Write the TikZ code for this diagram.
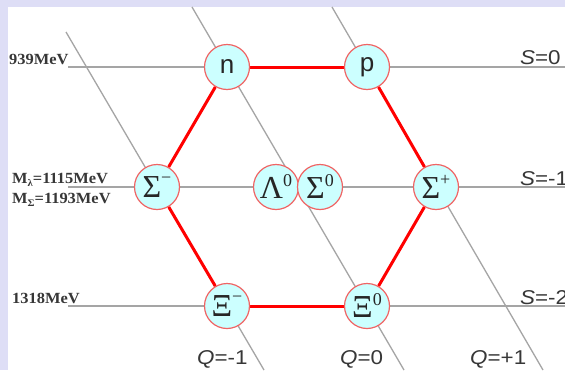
\documentclass[tikz,border=0pt]{standalone}
\usepackage{fontspec}
\setmainfont{Liberation Serif}
\newfontfamily\arialf{Liberation Sans}
\usetikzlibrary{backgrounds}
\definecolor{lav}{RGB}{222,222,246}
\definecolor{pfill}{RGB}{204,255,255}
\definecolor{pedge}{RGB}{240,100,100}
\definecolor{gline}{RGB}{165,165,165}
\definecolor{labc}{RGB}{55,55,55}
\newcommand\hsp[1]{\raisebox{12pt}{\fontsize{18}{18}\selectfont #1}}
\newcommand\hsm[1]{\raisebox{13.5pt}{\fontsize{18}{18}\selectfont #1}}
\newcommand\msub[1]{\raisebox{-3pt}{\fontsize{10}{10}\selectfont #1}}
\newcommand\widetxt[1]{\scalebox{1.12}[1]{#1}}
\newcommand\masstxt[1]{\scalebox{1.06}[1]{#1}}
\begin{document}
\begin{tikzpicture}[x=1pt,y=-1pt,
  particle/.style={circle, draw=pedge, line width=1.2pt, fill=pfill, minimum size=45pt, inner sep=0pt, text=black!85},
  greek/.style={font=\fontsize{32}{32}\selectfont},
  latin/.style={font=\arialf\fontsize{26}{26}\selectfont},
  gridline/.style={draw=gline, line width=1.3pt},
  hexedge/.style={draw=red, line width=3pt},
  mass/.style={font=\bfseries\fontsize{15.5}{16}\selectfont, text=labc, anchor=base west, inner sep=0pt},
  qnum/.style={font=\arialf\fontsize{20}{20}\selectfont, text=labc, anchor=base west, inner sep=0pt}]
\useasboundingbox (0,0) rectangle (565,370);

% particles
\node[particle,latin] (n) at (227,67) {n};
\node[particle,latin] (p) at (367,67) {p};
\node[particle,greek] (sm) at (157,187) {Σ\hsm{−}};
\node[particle,greek] (l0) at (276,187) {Λ\hsp{0}};
\node[particle,greek] (s0) at (320,187) {Σ\hsp{0}};
\node[particle,greek] (sp) at (436,187) {Σ\hsm{+}};
\node[particle,greek] (xm) at (227,306) {Ξ\hsm{−}};
\node[particle,greek] (x0) at (367,306) {Ξ\hsp{0}};

% line end points
\coordinate (h0L) at (68,67);   \coordinate (h0R) at (565,67);
\coordinate (h1L) at (68,187);  \coordinate (h1R) at (565,187);
\coordinate (h2L) at (68,306);  \coordinate (h2R) at (565,306);
\coordinate (qmT) at (66,32);   \coordinate (qmB) at (264,370);
\coordinate (q0T) at (192,7);   \coordinate (q0B) at (404,370);
\coordinate (qpT) at (332,7);   \coordinate (qpB) at (543,370);

\begin{scope}[on background layer]
  \fill[lav] (0,0) rectangle (565,370);
  \fill[white] (8,7) rectangle (565,370);
  \draw[gridline] (h0L) -- (h0R);
  \draw[gridline] (h1L) -- (h1R);
  \draw[gridline] (h2L) -- (h2R);
  \draw[gridline] (qmT) -- (qmB);
  \draw[gridline] (q0T) -- (q0B);
  \draw[gridline] (qpT) -- (qpB);
  \draw[hexedge] (n) -- (p);
  \draw[hexedge] (p) -- (sp);
  \draw[hexedge] (sp) -- (x0);
  \draw[hexedge] (x0) -- (xm);
  \draw[hexedge] (xm) -- (sm);
  \draw[hexedge] (sm) -- (n);
\end{scope}

% labels
\node[mass] (m939) at (9,64) {\masstxt{939MeV}};
\node[mass] (mL) at (12,183) {\masstxt{M\msub{λ}=1115MeV}};
\node[mass] (mS) at (12,203) {\masstxt{M\msub{Σ}=1193MeV}};
\node[mass] (m1318) at (12,303) {\masstxt{1318MeV}};

\node[qnum] (S0) at (520,64) {\widetxt{\textit{S}=0}};
\node[qnum] (S1) at (520,185) {\widetxt{\textit{S}=-1}};
\node[qnum] (S2) at (520,304) {\widetxt{\textit{S}=-2}};

\node[qnum] (Qm) at (197,364) {\widetxt{\textit{Q}=-1}};
\node[qnum] (Q0) at (340,364) {\widetxt{\textit{Q}=0}};
\node[qnum] (Qp) at (470,364) {\widetxt{\textit{Q}=+1}};
\end{tikzpicture}
\end{document}
